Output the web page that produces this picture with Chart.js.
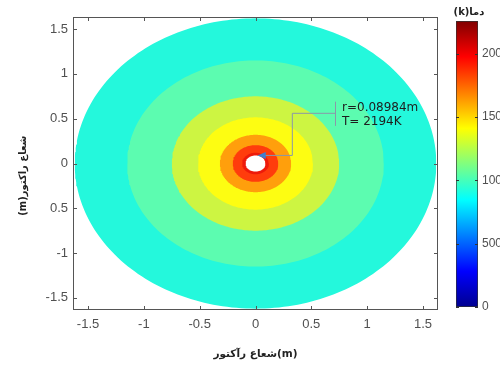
<!DOCTYPE html>
<html><head><meta charset="utf-8">
<script src="https://cdn.jsdelivr.net/npm/chart.js@4.4.0/dist/chart.umd.min.js"></script>
<style>
html,body{margin:0;padding:0;background:#fff;}
#wrap{position:relative;width:500px;height:367px;overflow:hidden;background:#fff;}
#main{position:absolute;left:0;top:0;}
#cbar{position:absolute;left:440px;top:0;}
</style></head><body>
<div id="wrap"><canvas id="main" width="500" height="367"></canvas><canvas id="cbar" width="60" height="367"></canvas></div>
<script>
// ---------------- data ----------------
// outer radius of each filled contour band, innermost first (m)
const ringRadii = [0.0898, 0.12, 0.205, 0.32, 0.515, 0.75, 1.15, 1.62];
// axis ticks
const xTicks = [-1.5, -1, -0.5, 0, 0.5, 1, 1.5];
const xTickLabels = ['-1.5', '-1', '-0.5', '0', '0.5', '1', '1.5'];
const yTicks = [-1.5, -1, -0.5, 0, 0.5, 1, 1.5];
const yTickLabels = ['-1.5', '-1', '0.5', '0', '0.5', '1', '1.5'];
// colour bar
const cbTicks = [0, 500, 1000, 1500, 2000];
const cbTickLabels = ['0', '500', '1000', '1500', '2000'];
const cbMin = 0, cbMax = 2260;
// data tip
const tipR = 0.08984, tipT = 2194;
const tipLines = ['r=' + tipR + 'm', 'T= ' + tipT + 'K'];
const xTitle = 'شعاع رآکتور(m)';
const yTitle = '(m)شعاع راکتور';
const cbTitle = '(k)دما';

// ---------------- styles ----------------
const ringColors = ['#ffffff', '#ee1a0a', '#ff3c0c', '#ff9f0c', '#fdfd12', '#cdf542', '#5cfcb0', '#24f8dc'];
const axisLim = 1.635;
const callout = {x: [0.02, 0.33, 0.33, 0.715], y: [0.09, 0.09, 0.56, 0.56]};
const tipText = {x: 0.775, y: [0.62, 0.47], barX: 0.715, barY: [0.69, 0.42]};
const tickColor = '#505050';
const frameColor = '#555555';
const tickFont = {family: 'Liberation Sans, Arial, sans-serif', size: 13};
const arabicFont = 'DejaVu Sans, sans-serif';
const SEG = 120;

// ---------------- main chart ----------------
const datasets = [];
datasets.push({
  data: callout.x.map((x, i) => ({x: x, y: callout.y[i]})),
  borderColor: '#8a98a8', borderWidth: 1, pointRadius: 0, fill: false, tension: 0
});
ringRadii.forEach((r, i) => {
  const up = [], lo = [];
  for (let k = 0; k <= SEG; k++) {
    const t = Math.PI * (1 - k / SEG);
    up.push({x: r * Math.cos(t), y: r * Math.sin(t)});
    lo.push({x: r * Math.cos(t), y: -r * Math.sin(t)});
  }
  datasets.push({data: up, backgroundColor: ringColors[i], borderColor: 'transparent', borderWidth: 0, pointRadius: 0, fill: '+1', tension: 0});
  datasets.push({data: lo, backgroundColor: ringColors[i], borderColor: 'transparent', borderWidth: 0, pointRadius: 0, fill: false, tension: 0});
});

const framePlugin = {
  id: 'frame',
  afterDatasetsDraw(chart) {
    const {ctx, chartArea: a, scales: {x, y}} = chart;
    ctx.save();
    // data-tip arrow head
    const ax = x.getPixelForValue(callout.x[0]), ay = y.getPixelForValue(callout.y[0]);
    ctx.fillStyle = '#3f7fcf';
    ctx.beginPath();
    ctx.moveTo(ax, ay); ctx.lineTo(ax + 8, ay - 3.5); ctx.lineTo(ax + 8, ay + 3.5); ctx.closePath(); ctx.fill();
    // data-tip bar and text
    ctx.strokeStyle = '#8a98a8'; ctx.lineWidth = 1;
    const bx = Math.round(x.getPixelForValue(tipText.barX)) + 0.5;
    ctx.beginPath(); ctx.moveTo(bx, y.getPixelForValue(tipText.barY[0])); ctx.lineTo(bx, y.getPixelForValue(tipText.barY[1])); ctx.stroke();
    ctx.fillStyle = '#1e1e1e';
    ctx.font = '12px "DejaVu Sans", sans-serif';
    ctx.textBaseline = 'middle'; ctx.textAlign = 'left';
    tipLines.forEach((t, i) => ctx.fillText(t, x.getPixelForValue(tipText.x), y.getPixelForValue(tipText.y[i])));
    // frame
    ctx.strokeStyle = frameColor; ctx.lineWidth = 1;
    ctx.strokeRect(Math.round(a.left) + 0.5, Math.round(a.top) + 0.5, Math.round(a.width) - 1, Math.round(a.height) - 1);
    ctx.beginPath();
    xTicks.forEach(v => {
      const p = Math.round(x.getPixelForValue(v)) + 0.5;
      ctx.moveTo(p, a.bottom); ctx.lineTo(p, a.bottom - 4);
      ctx.moveTo(p, a.top); ctx.lineTo(p, a.top + 4);
    });
    yTicks.forEach(v => {
      const p = Math.round(y.getPixelForValue(v)) + 0.5;
      ctx.moveTo(a.left, p); ctx.lineTo(a.left + 4, p);
      ctx.moveTo(a.right, p); ctx.lineTo(a.right - 4, p);
    });
    ctx.stroke();
    ctx.restore();
  }
};

new Chart(document.getElementById('main'), {
  type: 'line',
  data: {datasets: datasets},
  options: {
    responsive: false, animation: false, devicePixelRatio: 1,
    layout: {padding: {top: 17, right: 62, left: 0, bottom: 0}},
    plugins: {legend: {display: false}, tooltip: {enabled: false}},
    scales: {
      x: {
        type: 'linear', min: -axisLim, max: axisLim,
        afterBuildTicks: s => { s.ticks = xTicks.map(v => ({value: v})); },
        afterFit: s => { s.height = 57; },
        ticks: {callback: v => xTickLabels[xTicks.indexOf(v)], color: tickColor, font: tickFont, padding: 7, maxRotation: 0, autoSkip: false},
        grid: {display: false, drawTicks: false}, border: {display: false},
        title: {display: true, text: xTitle, color: '#222', font: {family: arabicFont, size: 10.5, weight: 'bold'}, padding: {top: 0, bottom: 6}}
      },
      y: {
        type: 'linear', min: -axisLim, max: axisLim,
        afterBuildTicks: s => { s.ticks = yTicks.map(v => ({value: v})); },
        afterFit: s => { s.width = 73; },
        ticks: {callback: v => yTickLabels[yTicks.indexOf(v)], color: tickColor, font: tickFont, padding: 5, autoSkip: false},
        grid: {display: false, drawTicks: false}, border: {display: false},
        title: {display: true, text: yTitle + '\u00a0\u00a0\u00a0\u00a0\u00a0\u00a0\u00a0', color: '#222', font: {family: arabicFont, size: 10, weight: 'bold'}, padding: {top: 17, bottom: 0}}
      }
    }
  },
  plugins: [framePlugin]
});

// ---------------- colour bar ----------------
const jetStops = [[0, '#00008f'], [0.125, '#0000ff'], [0.375, '#00ffff'], [0.625, '#ffff00'], [0.875, '#ff0000'], [1, '#800000']];
const cbPlugin = {
  id: 'cbdeco',
  afterDatasetsDraw(chart) {
    const {ctx, chartArea: a, scales: {y}} = chart;
    ctx.save();
    ctx.strokeStyle = '#333'; ctx.lineWidth = 1;
    ctx.beginPath();
    cbTicks.forEach(v => {
      const p = Math.round(y.getPixelForValue(v)) + 0.5;
      ctx.moveTo(a.right, p); ctx.lineTo(a.right - 3, p);
      ctx.moveTo(a.left, p); ctx.lineTo(a.left + 3, p);
    });
    ctx.stroke();
    ctx.fillStyle = '#222';
    ctx.font = 'bold 10px "DejaVu Sans", sans-serif';
    ctx.textAlign = 'center'; ctx.textBaseline = 'middle';
    ctx.fillText(cbTitle, (a.left + a.right) / 2 + 2, 12);
    ctx.restore();
  }
};
new Chart(document.getElementById('cbar'), {
  type: 'bar',
  data: {labels: [''], datasets: [{
    data: [[cbMin, cbMax]],
    backgroundColor: c => {
      const ch = c.chart; const a = ch.chartArea; if (!a) return '#00f';
      const ys = ch.scales.y;
      const g = ch.ctx.createLinearGradient(0, ys.getPixelForValue(cbMin), 0, ys.getPixelForValue(cbMax));
      jetStops.forEach(s => g.addColorStop(s[0], s[1]));
      return g;
    },
    borderColor: '#333', borderWidth: 1, borderSkipped: false,
    barPercentage: 1, categoryPercentage: 1
  }]},
  options: {
    responsive: false, animation: false, devicePixelRatio: 1,
    layout: {padding: {left: 16, top: 21, bottom: 60, right: 0}},
    plugins: {legend: {display: false}, tooltip: {enabled: false}},
    scales: {
      x: {display: false},
      y: {
        position: 'right', min: cbMin, max: cbMax,
        afterBuildTicks: s => { s.ticks = cbTicks.map(v => ({value: v})); },
        afterFit: s => { s.width = 22; },
        ticks: {callback: v => cbTickLabels[cbTicks.indexOf(v)], color: tickColor, font: {family: 'Liberation Sans, Arial, sans-serif', size: 12}, padding: 4, autoSkip: false},
        grid: {display: false, drawTicks: false}, border: {display: false}
      }
    }
  },
  plugins: [cbPlugin]
});
</script>
</body></html>
